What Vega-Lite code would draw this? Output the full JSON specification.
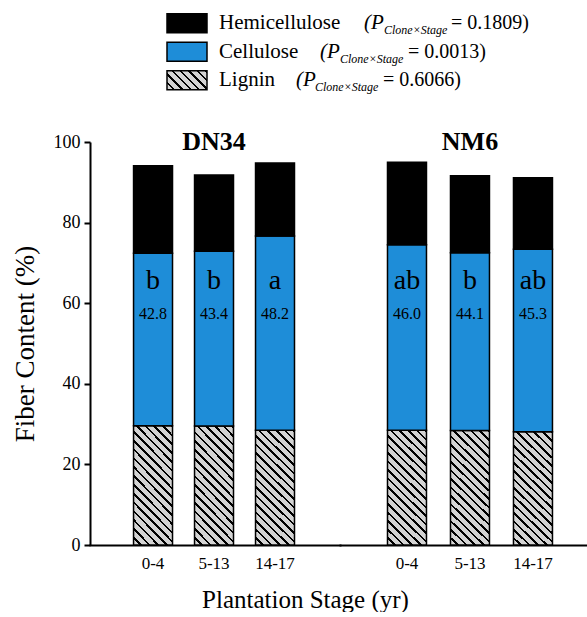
{
  "$schema": "https://vega.github.io/schema/vega-lite/v6.json",
  "padding": {"left": 11, "top": 9, "right": 0, "bottom": 0},
  "config": {
    "font": "Liberation Serif",
    "view": {"stroke": null},
    "text": {"color": "black"}
  },
  "datasets": {
    "fiber": [
      {"clone": "DN34", "stage": "0-4", "comp": "Lignin", "value": 29.6},
      {"clone": "DN34", "stage": "0-4", "comp": "Cellulose", "value": 42.8, "letter": "b"},
      {"clone": "DN34", "stage": "0-4", "comp": "Hemicellulose", "value": 21.7},
      {"clone": "DN34", "stage": "5-13", "comp": "Lignin", "value": 29.5},
      {"clone": "DN34", "stage": "5-13", "comp": "Cellulose", "value": 43.4, "letter": "b"},
      {"clone": "DN34", "stage": "5-13", "comp": "Hemicellulose", "value": 18.9},
      {"clone": "DN34", "stage": "14-17", "comp": "Lignin", "value": 28.5},
      {"clone": "DN34", "stage": "14-17", "comp": "Cellulose", "value": 48.2, "letter": "a"},
      {"clone": "DN34", "stage": "14-17", "comp": "Hemicellulose", "value": 18.1},
      {"clone": "NM6", "stage": "0-4", "comp": "Lignin", "value": 28.5},
      {"clone": "NM6", "stage": "0-4", "comp": "Cellulose", "value": 46.0, "letter": "ab"},
      {"clone": "NM6", "stage": "0-4", "comp": "Hemicellulose", "value": 20.5},
      {"clone": "NM6", "stage": "5-13", "comp": "Lignin", "value": 28.4},
      {"clone": "NM6", "stage": "5-13", "comp": "Cellulose", "value": 44.1, "letter": "b"},
      {"clone": "NM6", "stage": "5-13", "comp": "Hemicellulose", "value": 19.1},
      {"clone": "NM6", "stage": "14-17", "comp": "Lignin", "value": 28.1},
      {"clone": "NM6", "stage": "14-17", "comp": "Cellulose", "value": 45.3, "letter": "ab"},
      {"clone": "NM6", "stage": "14-17", "comp": "Hemicellulose", "value": 17.7}
    ],
    "legend": [
      {"comp": "Hemicellulose", "p": "0.1809"},
      {"comp": "Cellulose", "p": "0.0013"},
      {"comp": "Lignin", "p": "0.6066"}
    ]
  },
  "vconcat": [
    {
      "width": 420,
      "height": 85.5,
      "data": {"name": "legend"},
      "transform": [{"calculate": "'= ' + datum.p + ')'", "as": "ptext"}],
      "encoding": {
        "y": {"field": "comp", "type": "nominal", "sort": null,
              "scale": {"domain": ["Hemicellulose", "Cellulose", "Lignin"], "paddingInner": 0.333, "paddingOuter": 0.1667},
              "axis": null}
      },
      "layer": [
        {
          "mark": {"type": "rect", "stroke": "black", "strokeWidth": 1.5},
          "encoding": {
            "x": {"datum": 77, "type": "quantitative", "scale": {"domain": [0, 420], "nice": false, "zero": false}, "axis": null},
            "x2": {"datum": 117},
            "fill": {
              "condition": {"test": "datum.comp === 'Lignin'", "value": {"gradient": "linear", "x1": 0, "y1": 1, "x2": 1.2035, "y2": 0.4283, "stops": [
                {"offset": 0, "color": "#d3d3d3"}, {"offset": 0.1, "color": "#d3d3d3"}, {"offset": 0.1, "color": "#000000"}, {"offset": 0.1429, "color": "#000000"},
                {"offset": 0.1429, "color": "#d3d3d3"}, {"offset": 0.2429, "color": "#d3d3d3"}, {"offset": 0.2429, "color": "#000000"}, {"offset": 0.2857, "color": "#000000"},
                {"offset": 0.2857, "color": "#d3d3d3"}, {"offset": 0.3857, "color": "#d3d3d3"}, {"offset": 0.3857, "color": "#000000"}, {"offset": 0.4286, "color": "#000000"},
                {"offset": 0.4286, "color": "#d3d3d3"}, {"offset": 0.5286, "color": "#d3d3d3"}, {"offset": 0.5286, "color": "#000000"}, {"offset": 0.5714, "color": "#000000"},
                {"offset": 0.5714, "color": "#d3d3d3"}, {"offset": 0.6714, "color": "#d3d3d3"}, {"offset": 0.6714, "color": "#000000"}, {"offset": 0.7143, "color": "#000000"},
                {"offset": 0.7143, "color": "#d3d3d3"}, {"offset": 0.8143, "color": "#d3d3d3"}, {"offset": 0.8143, "color": "#000000"}, {"offset": 0.8571, "color": "#000000"},
                {"offset": 0.8571, "color": "#d3d3d3"}, {"offset": 0.9571, "color": "#d3d3d3"}, {"offset": 0.9571, "color": "#000000"}, {"offset": 1, "color": "#000000"}
              ]}},
              "field": "comp", "type": "nominal",
              "scale": {"domain": ["Lignin", "Cellulose", "Hemicellulose"], "range": ["#d3d3d3", "#1e8dd8", "#000000"]},
              "legend": null
            }
          }
        },
        {
          "mark": {"type": "text", "align": "left", "baseline": "middle", "fontSize": 21},
          "encoding": {"x": {"datum": 129}, "text": {"field": "comp"}}
        },
        {
          "transform": [{"filter": "datum.comp === 'Hemicellulose'"}],
          "layer": [
            {"mark": {"type": "text", "align": "left", "baseline": "middle", "fontSize": 21, "fontStyle": "italic"}, "encoding": {"x": {"datum": 274}, "text": {"value": "(P"}}},
            {"mark": {"type": "text", "align": "left", "baseline": "middle", "fontSize": 12, "fontStyle": "italic", "dy": 7}, "encoding": {"x": {"datum": 294}, "text": {"value": "Clone×Stage"}}},
            {"mark": {"type": "text", "align": "left", "baseline": "middle", "fontSize": 20}, "encoding": {"x": {"datum": 361}, "text": {"field": "ptext"}}}
          ]
        },
        {
          "transform": [{"filter": "datum.comp === 'Cellulose'"}],
          "layer": [
            {"mark": {"type": "text", "align": "left", "baseline": "middle", "fontSize": 21, "fontStyle": "italic"}, "encoding": {"x": {"datum": 230}, "text": {"value": "(P"}}},
            {"mark": {"type": "text", "align": "left", "baseline": "middle", "fontSize": 12, "fontStyle": "italic", "dy": 7}, "encoding": {"x": {"datum": 250}, "text": {"value": "Clone×Stage"}}},
            {"mark": {"type": "text", "align": "left", "baseline": "middle", "fontSize": 20}, "encoding": {"x": {"datum": 318}, "text": {"field": "ptext"}}}
          ]
        },
        {
          "transform": [{"filter": "datum.comp === 'Lignin'"}],
          "layer": [
            {"mark": {"type": "text", "align": "left", "baseline": "middle", "fontSize": 21, "fontStyle": "italic"}, "encoding": {"x": {"datum": 206}, "text": {"value": "(P"}}},
            {"mark": {"type": "text", "align": "left", "baseline": "middle", "fontSize": 12, "fontStyle": "italic", "dy": 7}, "encoding": {"x": {"datum": 225}, "text": {"value": "Clone×Stage"}}},
            {"mark": {"type": "text", "align": "left", "baseline": "middle", "fontSize": 20}, "encoding": {"x": {"datum": 293}, "text": {"field": "ptext"}}}
          ]
        }
      ]
    },
    {
      "hconcat": [
        {
          "width": 250,
          "height": 403,
          "data": {"name": "fiber"},
          "transform": [
            {"filter": "datum.clone === 'DN34'"},
            {"calculate": "indexof(['Lignin', 'Cellulose', 'Hemicellulose'], datum.comp)", "as": "stackOrder"}
          ],
          "encoding": {
            "x": {"field": "stage", "type": "nominal", "sort": ["0-4", "5-13", "14-17"],
                  "scale": {"paddingInner": 0.361, "paddingOuter": 0.73, "align": 0.489},
                  "axis": {"title": "Plantation Stage (yr)", "titleX": 215, "titleFontSize": 25, "titleFontWeight": "normal", "titleColor": "black", "titlePadding": 16,
                           "labelAngle": 0, "labelFontSize": 17, "labelColor": "black", "labelPadding": 10, "ticks": false,
                           "domainColor": "black", "domainWidth": 2, "domainCap": "square"}}
          },
          "layer": [
            {
              "mark": {"type": "bar", "stroke": "black", "strokeWidth": 1.5},
              "encoding": {
                "y": {"field": "value", "type": "quantitative", "stack": "zero",
                      "scale": {"domain": [0, 100], "nice": false},
                      "axis": {"title": "Fiber Content (%)", "values": [0, 20, 40, 60, 80, 100], "grid": false,
                               "domainColor": "black", "domainWidth": 2, "tickColor": "black", "tickWidth": 2, "tickSize": 6,
                               "labelFontSize": 18, "labelColor": "black", "labelPadding": 4,
                               "titleFontSize": 27, "titleFontWeight": "normal", "titleColor": "black", "titlePadding": 14}},
                "order": {"field": "stackOrder", "type": "quantitative"},
                "fill": {
                  "condition": {"test": "datum.comp === 'Lignin'", "value": {"gradient": "linear", "x1": 0, "y1": 1, "x2": 0.4, "y2": -0.2, "stops": [
                    {"offset": 0, "color": "#d3d3d3"}, {"offset": 0.0389, "color": "#d3d3d3"}, {"offset": 0.0389, "color": "#000000"}, {"offset": 0.0556, "color": "#000000"},
                    {"offset": 0.0556, "color": "#d3d3d3"}, {"offset": 0.0944, "color": "#d3d3d3"}, {"offset": 0.0944, "color": "#000000"}, {"offset": 0.1111, "color": "#000000"},
                    {"offset": 0.1111, "color": "#d3d3d3"}, {"offset": 0.15, "color": "#d3d3d3"}, {"offset": 0.15, "color": "#000000"}, {"offset": 0.1667, "color": "#000000"},
                    {"offset": 0.1667, "color": "#d3d3d3"}, {"offset": 0.2056, "color": "#d3d3d3"}, {"offset": 0.2056, "color": "#000000"}, {"offset": 0.2222, "color": "#000000"},
                    {"offset": 0.2222, "color": "#d3d3d3"}, {"offset": 0.2611, "color": "#d3d3d3"}, {"offset": 0.2611, "color": "#000000"}, {"offset": 0.2778, "color": "#000000"},
                    {"offset": 0.2778, "color": "#d3d3d3"}, {"offset": 0.3167, "color": "#d3d3d3"}, {"offset": 0.3167, "color": "#000000"}, {"offset": 0.3333, "color": "#000000"},
                    {"offset": 0.3333, "color": "#d3d3d3"}, {"offset": 0.3722, "color": "#d3d3d3"}, {"offset": 0.3722, "color": "#000000"}, {"offset": 0.3889, "color": "#000000"},
                    {"offset": 0.3889, "color": "#d3d3d3"}, {"offset": 0.4278, "color": "#d3d3d3"}, {"offset": 0.4278, "color": "#000000"}, {"offset": 0.4444, "color": "#000000"},
                    {"offset": 0.4444, "color": "#d3d3d3"}, {"offset": 0.4833, "color": "#d3d3d3"}, {"offset": 0.4833, "color": "#000000"}, {"offset": 0.5, "color": "#000000"},
                    {"offset": 0.5, "color": "#d3d3d3"}, {"offset": 0.5389, "color": "#d3d3d3"}, {"offset": 0.5389, "color": "#000000"}, {"offset": 0.5556, "color": "#000000"},
                    {"offset": 0.5556, "color": "#d3d3d3"}, {"offset": 0.5944, "color": "#d3d3d3"}, {"offset": 0.5944, "color": "#000000"}, {"offset": 0.6111, "color": "#000000"},
                    {"offset": 0.6111, "color": "#d3d3d3"}, {"offset": 0.65, "color": "#d3d3d3"}, {"offset": 0.65, "color": "#000000"}, {"offset": 0.6667, "color": "#000000"},
                    {"offset": 0.6667, "color": "#d3d3d3"}, {"offset": 0.7056, "color": "#d3d3d3"}, {"offset": 0.7056, "color": "#000000"}, {"offset": 0.7222, "color": "#000000"},
                    {"offset": 0.7222, "color": "#d3d3d3"}, {"offset": 0.7611, "color": "#d3d3d3"}, {"offset": 0.7611, "color": "#000000"}, {"offset": 0.7778, "color": "#000000"},
                    {"offset": 0.7778, "color": "#d3d3d3"}, {"offset": 0.8167, "color": "#d3d3d3"}, {"offset": 0.8167, "color": "#000000"}, {"offset": 0.8333, "color": "#000000"},
                    {"offset": 0.8333, "color": "#d3d3d3"}, {"offset": 0.8722, "color": "#d3d3d3"}, {"offset": 0.8722, "color": "#000000"}, {"offset": 0.8889, "color": "#000000"},
                    {"offset": 0.8889, "color": "#d3d3d3"}, {"offset": 0.9278, "color": "#d3d3d3"}, {"offset": 0.9278, "color": "#000000"}, {"offset": 0.9444, "color": "#000000"},
                    {"offset": 0.9444, "color": "#d3d3d3"}, {"offset": 0.9833, "color": "#d3d3d3"}, {"offset": 0.9833, "color": "#000000"}, {"offset": 1, "color": "#000000"}
                  ]}},
                  "field": "comp", "type": "nominal",
                  "scale": {"domain": ["Lignin", "Cellulose", "Hemicellulose"], "range": ["#d3d3d3", "#1e8dd8", "#000000"]},
                  "legend": null
                }
              }
            },
            {
              "transform": [{"filter": "datum.comp === 'Cellulose'"}],
              "mark": {"type": "text", "fontSize": 28, "baseline": "middle"},
              "encoding": {"y": {"datum": 65.5}, "text": {"field": "letter"}}
            },
            {
              "transform": [{"filter": "datum.comp === 'Cellulose'"}],
              "mark": {"type": "text", "fontSize": 16, "baseline": "middle"},
              "encoding": {"y": {"datum": 57.3}, "text": {"field": "value", "format": ".1f"}}
            },
            {
              "transform": [{"filter": "datum.comp === 'Cellulose' && datum.stage === '5-13'"}],
              "mark": {"type": "text", "fontSize": 26, "fontWeight": "bold", "baseline": "middle"},
              "encoding": {"y": {"datum": 100}, "text": {"field": "clone"}}
            }
          ]
        },
        {
          "width": 247,
          "height": 403,
          "data": {"name": "fiber"},
          "transform": [
            {"filter": "datum.clone === 'NM6'"},
            {"calculate": "indexof(['Lignin', 'Cellulose', 'Hemicellulose'], datum.comp)", "as": "stackOrder"}
          ],
          "encoding": {
            "x": {"field": "stage", "type": "nominal", "sort": ["0-4", "5-13", "14-17"],
                  "scale": {"paddingInner": 0.381, "paddingOuter": 0.651, "align": 0.579},
                  "axis": {"title": null, "labelAngle": 0, "labelFontSize": 17, "labelColor": "black", "labelPadding": 10, "ticks": false,
                           "domainColor": "black", "domainWidth": 2, "domainCap": "square"}}
          },
          "layer": [
            {
              "mark": {"type": "bar", "stroke": "black", "strokeWidth": 1.5},
              "encoding": {
                "y": {"field": "value", "type": "quantitative", "stack": "zero",
                      "scale": {"domain": [0, 100], "nice": false}, "axis": null},
                "order": {"field": "stackOrder", "type": "quantitative"},
                "fill": {
                  "condition": {"test": "datum.comp === 'Lignin'", "value": {"gradient": "linear", "x1": 0, "y1": 1, "x2": 0.4, "y2": -0.2, "stops": [
                    {"offset": 0, "color": "#d3d3d3"}, {"offset": 0.0389, "color": "#d3d3d3"}, {"offset": 0.0389, "color": "#000000"}, {"offset": 0.0556, "color": "#000000"},
                    {"offset": 0.0556, "color": "#d3d3d3"}, {"offset": 0.0944, "color": "#d3d3d3"}, {"offset": 0.0944, "color": "#000000"}, {"offset": 0.1111, "color": "#000000"},
                    {"offset": 0.1111, "color": "#d3d3d3"}, {"offset": 0.15, "color": "#d3d3d3"}, {"offset": 0.15, "color": "#000000"}, {"offset": 0.1667, "color": "#000000"},
                    {"offset": 0.1667, "color": "#d3d3d3"}, {"offset": 0.2056, "color": "#d3d3d3"}, {"offset": 0.2056, "color": "#000000"}, {"offset": 0.2222, "color": "#000000"},
                    {"offset": 0.2222, "color": "#d3d3d3"}, {"offset": 0.2611, "color": "#d3d3d3"}, {"offset": 0.2611, "color": "#000000"}, {"offset": 0.2778, "color": "#000000"},
                    {"offset": 0.2778, "color": "#d3d3d3"}, {"offset": 0.3167, "color": "#d3d3d3"}, {"offset": 0.3167, "color": "#000000"}, {"offset": 0.3333, "color": "#000000"},
                    {"offset": 0.3333, "color": "#d3d3d3"}, {"offset": 0.3722, "color": "#d3d3d3"}, {"offset": 0.3722, "color": "#000000"}, {"offset": 0.3889, "color": "#000000"},
                    {"offset": 0.3889, "color": "#d3d3d3"}, {"offset": 0.4278, "color": "#d3d3d3"}, {"offset": 0.4278, "color": "#000000"}, {"offset": 0.4444, "color": "#000000"},
                    {"offset": 0.4444, "color": "#d3d3d3"}, {"offset": 0.4833, "color": "#d3d3d3"}, {"offset": 0.4833, "color": "#000000"}, {"offset": 0.5, "color": "#000000"},
                    {"offset": 0.5, "color": "#d3d3d3"}, {"offset": 0.5389, "color": "#d3d3d3"}, {"offset": 0.5389, "color": "#000000"}, {"offset": 0.5556, "color": "#000000"},
                    {"offset": 0.5556, "color": "#d3d3d3"}, {"offset": 0.5944, "color": "#d3d3d3"}, {"offset": 0.5944, "color": "#000000"}, {"offset": 0.6111, "color": "#000000"},
                    {"offset": 0.6111, "color": "#d3d3d3"}, {"offset": 0.65, "color": "#d3d3d3"}, {"offset": 0.65, "color": "#000000"}, {"offset": 0.6667, "color": "#000000"},
                    {"offset": 0.6667, "color": "#d3d3d3"}, {"offset": 0.7056, "color": "#d3d3d3"}, {"offset": 0.7056, "color": "#000000"}, {"offset": 0.7222, "color": "#000000"},
                    {"offset": 0.7222, "color": "#d3d3d3"}, {"offset": 0.7611, "color": "#d3d3d3"}, {"offset": 0.7611, "color": "#000000"}, {"offset": 0.7778, "color": "#000000"},
                    {"offset": 0.7778, "color": "#d3d3d3"}, {"offset": 0.8167, "color": "#d3d3d3"}, {"offset": 0.8167, "color": "#000000"}, {"offset": 0.8333, "color": "#000000"},
                    {"offset": 0.8333, "color": "#d3d3d3"}, {"offset": 0.8722, "color": "#d3d3d3"}, {"offset": 0.8722, "color": "#000000"}, {"offset": 0.8889, "color": "#000000"},
                    {"offset": 0.8889, "color": "#d3d3d3"}, {"offset": 0.9278, "color": "#d3d3d3"}, {"offset": 0.9278, "color": "#000000"}, {"offset": 0.9444, "color": "#000000"},
                    {"offset": 0.9444, "color": "#d3d3d3"}, {"offset": 0.9833, "color": "#d3d3d3"}, {"offset": 0.9833, "color": "#000000"}, {"offset": 1, "color": "#000000"}
                  ]}},
                  "field": "comp", "type": "nominal",
                  "scale": {"domain": ["Lignin", "Cellulose", "Hemicellulose"], "range": ["#d3d3d3", "#1e8dd8", "#000000"]},
                  "legend": null
                }
              }
            },
            {
              "transform": [{"filter": "datum.comp === 'Cellulose'"}],
              "mark": {"type": "text", "fontSize": 28, "baseline": "middle"},
              "encoding": {"y": {"datum": 65.5}, "text": {"field": "letter"}}
            },
            {
              "transform": [{"filter": "datum.comp === 'Cellulose'"}],
              "mark": {"type": "text", "fontSize": 16, "baseline": "middle"},
              "encoding": {"y": {"datum": 57.3}, "text": {"field": "value", "format": ".1f"}}
            },
            {
              "transform": [{"filter": "datum.comp === 'Cellulose' && datum.stage === '5-13'"}],
              "mark": {"type": "text", "fontSize": 26, "fontWeight": "bold", "baseline": "middle"},
              "encoding": {"y": {"datum": 100}, "text": {"field": "clone"}}
            }
          ]
        }
      ],
      "spacing": 0,
      "bounds": "flush",
      "resolve": {"scale": {"x": "independent"}}
    }
  ],
  "spacing": 34,
  "resolve": {"scale": {"y": "independent", "x": "independent"}}
}
